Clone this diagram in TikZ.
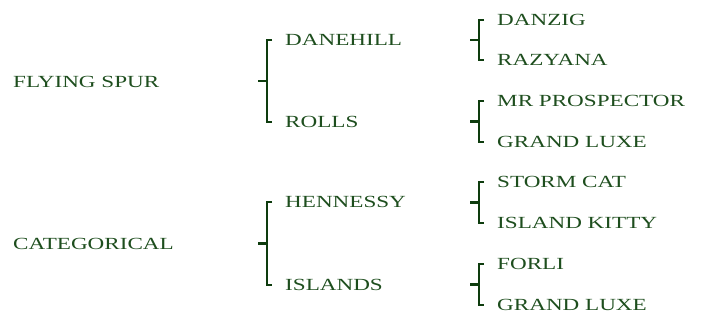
\documentclass[tikz,border=0pt]{standalone}
\usepackage{fontspec}
\setmainfont{Liberation Serif}[FakeStretch=1.36]
\usepackage{tikz}
\usetikzlibrary{positioning, calc}

\definecolor{pedgreen}{RGB}{30,78,30}
\definecolor{bracegreen}{RGB}{14,60,14}
\tikzset{
  horse/.style={anchor=west, inner sep=0pt, text=pedgreen, font=\fontsize{17}{20}\selectfont},
  brace/.style={draw=bracegreen, line width=2.8pt}
}

\begin{document}
\begin{tikzpicture}[x=1pt, y=-1pt]
        \useasboundingbox (0,0) rectangle (701,327);

        % Sires on the left
        \node [horse] (fs)  at (13,82)  {FLYING SPUR};
        \node [horse] (cat) at (13,244) {CATEGORICAL};

        % Their parents
        \node [horse] (dane)  at (285,40)  {DANEHILL};
        \node [horse] (rolls) at (285,122) {ROLLS};
        \node [horse] (henn)  at (285,202) {HENNESSY};
        \node [horse] (isl)   at (285,285) {ISLANDS};

        % Grandparents
        \node [horse] (danz)  at (497,20)  {DANZIG};
        \node [horse] (raz)   at (497,60)  {RAZYANA};
        \node [horse] (mrp)   at (497,101) {MR PROSPECTOR};
        \node [horse] (glx)   at (497,142) {GRAND LUXE};
        \node [horse] (storm) at (497,182) {STORM CAT};
        \node [horse] (kitty) at (497,223) {ISLAND KITTY};
        \node [horse] (forli) at (497,264) {FORLI};
        \node [horse] (glxb)  at (497,305) {GRAND LUXE};

        % Drawing the brackets in front of each pair
        \foreach \a/\b in {dane/rolls, henn/isl, danz/raz, mrp/glx, storm/kitty, forli/glxb}
        {
        \draw [brace] ([xshift=-13pt]\a.west) -- ([xshift=-18pt]\a.west) -- ([xshift=-18pt]\b.west) -- ([xshift=-13pt]\b.west);
        \draw [brace] ($([xshift=-18pt]\a.west)!0.5!([xshift=-18pt]\b.west)$) -- +(-9,0);
        }
    \end{tikzpicture}
\end{document}
